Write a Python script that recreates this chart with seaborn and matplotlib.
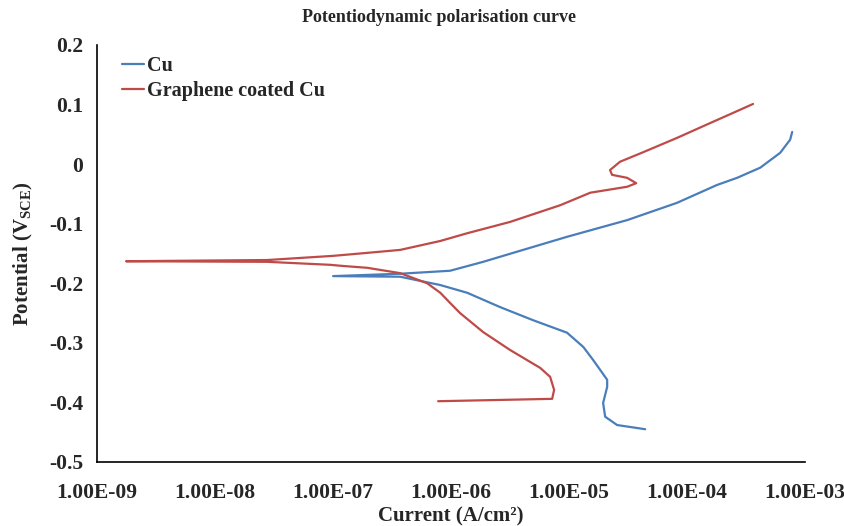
import numpy as np
import pandas as pd
import matplotlib
matplotlib.use("Agg")
import matplotlib.pyplot as plt
import seaborn as sns
from matplotlib.ticker import FixedLocator, FuncFormatter, LogLocator, NullFormatter

# ---- data ----
series_names = ["Cu", "Graphene coated Cu"]

cu_current = [4.41e-5, 2.55e-5, 2.02e-5, 1.94e-5, 2.10e-5, 2.10e-5, 1.60e-5, 1.32e-5,
              9.6e-6, 4.95e-6, 2.60e-6, 1.37e-6, 8.1e-7, 3.70e-7, 1.0e-7,
              3.70e-7, 9.8e-7, 1.87e-6, 3.62e-6, 9.6e-6, 3.10e-5, 8.2e-5, 1.79e-4,
              2.65e-4, 4.16e-4, 6.14e-4, 7.46e-4, 7.76e-4]
cu_potential = [-0.445, -0.438, -0.424, -0.401, -0.374, -0.362, -0.329, -0.307,
                -0.283, -0.262, -0.240, -0.216, -0.203, -0.189, -0.188,
                -0.184, -0.179, -0.164, -0.147, -0.122, -0.094, -0.065, -0.035,
                -0.023, -0.006, 0.019, 0.041, 0.054]

gr_current = [7.76e-7, 7.18e-6, 7.46e-6, 6.90e-6, 5.68e-6, 3.16e-6, 1.87e-6, 1.19e-6,
              9.8e-7, 8.1e-7, 6.27e-7, 3.70e-7, 1.94e-7, 1.22e-7, 9.4e-8, 2.76e-8,
              1.76e-9,
              2.76e-8, 1.0e-7, 1.94e-7, 3.70e-7, 8.1e-7, 1.37e-6, 3.16e-6, 8.4e-6,
              1.51e-5, 3.10e-5, 3.70e-5, 3.10e-5, 2.31e-5, 2.22e-5, 2.70e-5, 4.24e-5,
              8.2e-5, 1.57e-4, 2.45e-4, 3.62e-4]
gr_potential = [-0.398, -0.394, -0.379, -0.357, -0.342, -0.312, -0.282, -0.250,
                -0.233, -0.216, -0.200, -0.183, -0.174, -0.171, -0.169, -0.164,
                -0.163,
                -0.161, -0.154, -0.149, -0.144, -0.129, -0.116, -0.097, -0.069,
                -0.048, -0.038, -0.032, -0.023, -0.018, -0.010, 0.004, 0.020,
                0.044, 0.069, 0.086, 0.101]

x_ticks = [1e-9, 1e-8, 1e-7, 1e-6, 1e-5, 1e-4, 1e-3]
y_ticks = [-0.5, -0.4, -0.3, -0.2, -0.1, 0.0, 0.1, 0.2]

title_text = "Potentiodynamic polarisation curve"
xlabel_text = "Current (A/cm\u00b2)"
ylabel_text = r"Potential (V$_{\mathbf{SCE}}$)"

# ---- build table ----
df = pd.concat([
    pd.DataFrame({"current": cu_current, "potential": cu_potential,
                  "series": series_names[0], "order": range(len(cu_current))}),
    pd.DataFrame({"current": gr_current, "potential": gr_potential,
                  "series": series_names[1], "order": range(len(gr_current))}),
], ignore_index=True)

sns.set_style("white")
plt.rcParams["font.family"] = ["Liberation Serif", "DejaVu Serif"]
plt.rcParams["font.weight"] = "bold"
plt.rcParams["axes.unicode_minus"] = False
plt.rcParams["mathtext.fontset"] = "custom"
plt.rcParams["mathtext.rm"] = "Liberation Serif"
plt.rcParams["mathtext.bf"] = "Liberation Serif:bold"

fig = plt.figure(figsize=(8.44, 5.26), dpi=100)
ax = fig.add_axes([0.115, 0.1217, 0.839, 0.7928])

palette = {series_names[0]: "#4A7EBB", series_names[1]: "#BE4B48"}
sns.lineplot(data=df, x="current", y="potential", hue="series", units="series",
             estimator=None, sort=False, palette=palette, linewidth=1.6, ax=ax,
             hue_order=series_names)

ax.set_xscale("log")
ax.set_xlim(1e-9, 1e-3)
ax.set_ylim(-0.5, 0.2)

ax.xaxis.set_major_locator(FixedLocator(x_ticks))
ax.xaxis.set_major_formatter(FuncFormatter(lambda v, p: f"{v:.2E}"))
ax.xaxis.set_minor_locator(LogLocator(base=10, subs=np.arange(2, 10), numticks=50))
ax.xaxis.set_minor_formatter(NullFormatter())
ax.yaxis.set_major_locator(FixedLocator(y_ticks))
ax.yaxis.set_major_formatter(FuncFormatter(lambda v, p: "0" if abs(v) < 1e-9 else f"{v:.1f}"))

for s in ["top", "right"]:
    ax.spines[s].set_visible(False)
for s in ["left", "bottom"]:
    ax.spines[s].set_color("black")
    ax.spines[s].set_linewidth(1.2)

ax.tick_params(axis="both", which="major", direction="out", length=5, width=1.2,
               color="black", labelsize=15.5, pad=5)
ax.tick_params(axis="x", which="minor", direction="out", length=3.5, width=1.0, color="black")
ax.tick_params(axis="x", which="major", length=6, pad=9)
for lab in ax.get_xticklabels() + ax.get_yticklabels():
    lab.set_fontweight("bold")

fig.text(439 / 844, 1 - 18 / 526, title_text, fontsize=13, fontweight="bold",
         ha="center", va="center")
ax.set_xlabel(xlabel_text, fontsize=15, fontweight="bold", labelpad=2.5)
ax.set_ylabel(ylabel_text, fontsize=15, fontweight="bold", labelpad=10)

leg = ax.legend(loc="upper left", bbox_to_anchor=(0.02, 1.0), frameon=False,
                prop={"family": "Liberation Serif", "weight": "bold", "size": 14.5},
                handlelength=1.1, handletextpad=0.15, labelspacing=0.25,
                borderaxespad=0.15)

fig.savefig("out.png", dpi=100)
